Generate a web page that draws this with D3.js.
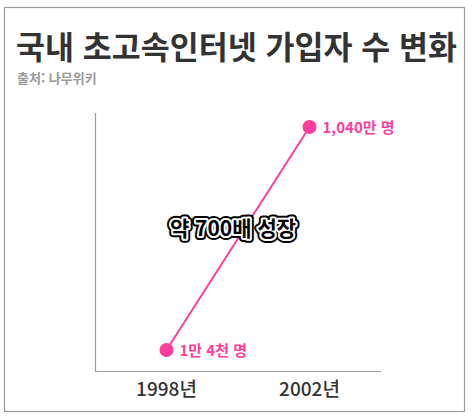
<!DOCTYPE html>
<html lang="ko">
<head>
<meta charset="utf-8">
<script src="https://cdn.jsdelivr.net/npm/d3@7"></script>
<style>
  body { margin: 0; background: #fff; font-family: "Noto Sans CJK KR", "Noto Sans", sans-serif; }
</style>
</head>
<body>
<svg width="474" height="417"></svg>
<script>
const years = ['1998', '2002'];
const subscribers = [1.4, 1040]; // 만 명
const yearLabels = ['1998년', '2002년'];
const pointLabels = ['1만 4천 명', '1,040만 명'];
const pink = '#ff3d9a';

const svg = d3.select('svg');
const font = '"Noto Sans CJK KR", sans-serif';

svg.append('rect').attr('x', 4.5).attr('y', 7.5).attr('width', 460).attr('height', 404)
  .attr('fill', '#fff').attr('stroke', '#999').attr('stroke-width', 1.2);

svg.append('text').attr('x', 16).attr('y', 59).text('국내 초고속인터넷 가입자 수 변화')
  .attr('font-family', font).attr('font-weight', 700).attr('font-size', 31.5).attr('fill', '#333');
svg.append('text').attr('x', 17).attr('y', 83).text('출처: 나무위키')
  .attr('font-family', font).attr('font-weight', 700).attr('font-size', 13).attr('fill', '#999');

const x = d3.scalePoint().domain(years).range([95, 381]).padding(0.5);
const y = d3.scaleLinear().domain([1.4, 1040]).range([350, 127]);

svg.append('line').attr('x1', 95.5).attr('x2', 95.5).attr('y1', 113).attr('y2', 371.5)
  .attr('stroke', '#999').attr('stroke-width', 1.2);
svg.append('line').attr('x1', 95).attr('x2', 381).attr('y1', 371.5).attr('y2', 371.5)
  .attr('stroke', '#999').attr('stroke-width', 1.2);

svg.selectAll('.yl').data(years).enter().append('text')
  .attr('x', d => x(d)).attr('y', 396).attr('text-anchor', 'middle')
  .text((d, i) => yearLabels[i])
  .attr('font-family', font).attr('font-size', 19).attr('font-weight', 500).attr('fill', '#333');

const pts = years.map((d, i) => [x(d), y(subscribers[i])]);
svg.append('path').attr('d', d3.line()(pts)).attr('stroke', pink).attr('stroke-width', 2).attr('fill', 'none');
svg.selectAll('circle').data(pts).enter().append('circle')
  .attr('cx', d => d[0]).attr('cy', d => d[1]).attr('r', 7).attr('fill', pink);
svg.selectAll('.pl').data(pts).enter().append('text')
  .attr('x', d => d[0] + 13).attr('y', d => d[1] + 6).text((d, i) => pointLabels[i])
  .attr('font-family', font).attr('font-size', 15).attr('font-weight', 700).attr('fill', pink);

const note = '약 700배 성장';
[['#000', 8], ['#fff', 4]].forEach(([c, w]) => {
  svg.append('text').attr('x', 233).attr('y', 236).attr('text-anchor', 'middle').text(note)
    .attr('font-family', font).attr('font-size', 21).attr('font-weight', 700)
    .attr('fill', 'none').attr('stroke', c).attr('stroke-width', w).attr('stroke-linejoin', 'round');
});
svg.append('text').attr('x', 233).attr('y', 236).attr('text-anchor', 'middle').text(note)
  .attr('font-family', font).attr('font-size', 21).attr('font-weight', 700).attr('fill', '#000');
</script>
</body>
</html>
